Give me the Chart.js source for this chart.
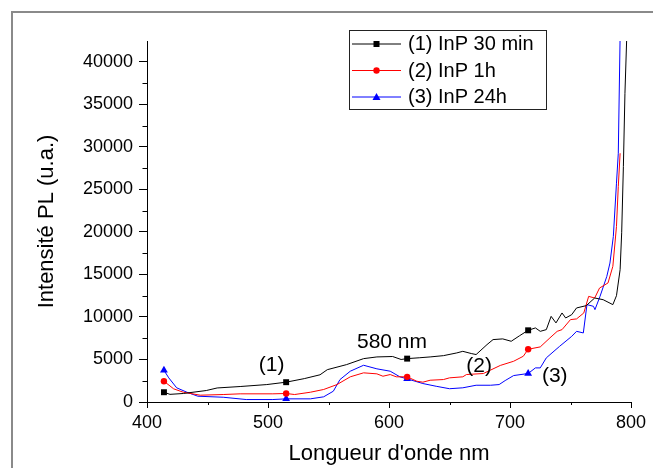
<!DOCTYPE html>
<html><head><meta charset="utf-8">
<script src="https://cdn.jsdelivr.net/npm/chart.js@4/dist/chart.umd.min.js"></script>
<style>
html,body{margin:0;padding:0;background:#fff;overflow:hidden;}
#wrap{position:relative;width:653px;height:468px;overflow:hidden;}
#frame{position:absolute;left:11px;top:11px;width:700px;height:500px;border-top:2px solid #8a8a8a;border-left:2px solid #8a8a8a;pointer-events:none;}
canvas{position:absolute;left:0;top:0;}
</style></head><body>
<div id="wrap"><canvas id="c" width="653" height="468"></canvas><div id="frame"></div></div>
<script>
// ---- data ----
const seriesLabels = ['(1) InP 30 min', '(2) InP 1h', '(3) InP 24h'];
const markerWl = [414, 515, 615, 715];

const wl1 = [414, 419, 430, 449, 458, 477, 499, 515, 530, 543, 549, 565, 579, 590, 603, 610, 615, 625, 634, 645, 656, 661, 668, 672, 681, 686, 694, 701, 708, 715, 721, 725, 730, 734, 738, 743, 746, 751, 755, 763, 770, 777, 785, 788, 791, 792.3, 793.7, 795, 796.5];
const int1 = [1150, 900, 1000, 1350, 1650, 1820, 2050, 2330, 2750, 3200, 3800, 4400, 5100, 5300, 5350, 5000, 5100, 5200, 5300, 5450, 5770, 5960, 5700, 5580, 6750, 7340, 7420, 7140, 7800, 8430, 8710, 8310, 8510, 10070, 9300, 10470, 9880, 10270, 11060, 11330, 12230, 12030, 11450, 12500, 15560, 19900, 27680, 36300, 43000];

const wl2 = [414, 422, 430, 444, 463, 477, 504, 515, 522, 535, 546, 557, 568, 579, 590, 595, 601, 606, 615, 623, 628, 634, 645, 650, 661, 664, 678, 692, 703, 711, 715, 725, 733, 739, 743, 750, 755, 761, 765, 770, 774, 781, 785, 788, 789.5, 791];
const int2 = [2440, 1550, 1150, 800, 880, 960, 960, 1000, 880, 1150, 1470, 2050, 2960, 3430, 3310, 3030, 3230, 2960, 2960, 2440, 2330, 2560, 2640, 2840, 2960, 3230, 3350, 4300, 4790, 5380, 6200, 6480, 7540, 8310, 8510, 9690, 9770, 10470, 12420, 12230, 13400, 14000, 15950, 20640, 25340, 29250];

const wl3 = [414, 418, 424.5, 433, 442, 463, 482, 504, 515, 535, 546, 554, 559.5, 568, 579, 590, 601, 609, 615, 628, 639, 650, 661, 672, 684, 691, 696, 703, 715, 721, 725, 730, 741, 751, 755, 760.6, 763.6, 769, 770.2, 774.4, 780, 782.6, 785.4, 788, 789.5, 791];
const int3 = [3730, 2840, 1670, 1150, 680, 560, 290, 290, 370, 370, 610, 1270, 2640, 3620, 4320, 3900, 3620, 2960, 2720, 2170, 1850, 1560, 1670, 1970, 1970, 2050, 2520, 3110, 3350, 4010, 4010, 5190, 6550, 7720, 8310, 8120, 11450, 11250, 10860, 12420, 14770, 16340, 19470, 25730, 29250, 43000];

const xTickValues = [400, 500, 600, 700, 800];
const yTickValues = [0, 5000, 10000, 15000, 20000, 25000, 30000, 35000, 40000];
const xMinorValues = [450, 550, 650, 750];
const yMinorValues = [2500, 7500, 12500, 17500, 22500, 27500, 32500, 37500];
const xMin = 400, xMax = 800, yMin = 0, yMax = 42450;

const annText = ['(1)', '580 nm', '(2)', '(3)'];
const annWl = [503, 602.5, 674.5, 737];
const annInt = [4300, 7000, 4170, 2990];

// ---- chart ----
const FONT = "'Liberation Sans', Arial, sans-serif";
Chart.defaults.font.family = FONT;
Chart.defaults.color = '#000';

function pts(xs, ys) { return xs.map((x, i) => ({x: x, y: ys[i]})); }
const colors = ['#000000', '#ff0000', '#0000ff'];
const styles = ['rect', 'circle', 'triangle'];
const radii = [4.2, 3.2, 4.5];

const datasets = [[wl1, int1], [wl2, int2], [wl3, int3]].map((d, i) => ({
  label: seriesLabels[i],
  data: pts(d[0], d[1]),
  borderColor: colors[i],
  backgroundColor: colors[i],
  borderWidth: 1,
  pointStyle: styles[i],
  pointRadius: ctx => (ctx.raw && markerWl.includes(ctx.raw.x)) ? radii[i] : 0,
  pointBorderWidth: 0,
  tension: 0
}));

const extras = {
  id: 'extras',
  afterDraw(chart) {
    const ctx = chart.ctx, xs = chart.scales.x, ys = chart.scales.y;
    const area = chart.chartArea;
    ctx.save();
    ctx.strokeStyle = '#000'; ctx.lineWidth = 1;
    // minor ticks
    ctx.beginPath();
    xMinorValues.forEach(v => { const p = Math.round(xs.getPixelForValue(v)) + 0.5; ctx.moveTo(p, area.bottom); ctx.lineTo(p, area.bottom + 3); });
    yMinorValues.forEach(v => { if (v > yMax) return; const p = Math.round(ys.getPixelForValue(v)) + 0.5; ctx.moveTo(area.left, p); ctx.lineTo(area.left - 4.5, p); });
    ctx.stroke();
    // annotations
    ctx.fillStyle = '#000';
    ctx.font = '21px ' + FONT;
    ctx.textAlign = 'center'; ctx.textBaseline = 'middle';
    annText.forEach((t, i) => ctx.fillText(t, xs.getPixelForValue(annWl[i]), ys.getPixelForValue(annInt[i])));
    // legend
    const L = {x: 349.5, y: 30.5, w: 197, h: 79, rows: [43.5, 70, 96.5], x1: 352, x2: 401, tx: 408};
    ctx.strokeStyle = '#222'; ctx.lineWidth = 1;
    ctx.strokeRect(L.x, L.y, L.w, L.h);
    ctx.font = '20px ' + FONT; ctx.textAlign = 'left';
    chart.data.datasets.forEach((ds, i) => {
      const y = L.rows[i];
      ctx.strokeStyle = ds.borderColor; ctx.lineWidth = 1;
      ctx.beginPath(); ctx.moveTo(L.x1, y + 0.5); ctx.lineTo(L.x2, y + 0.5); ctx.stroke();
      const mx = (L.x1 + L.x2) / 2;
      ctx.fillStyle = ds.backgroundColor;
      ctx.beginPath();
      if (ds.pointStyle === 'rect') ctx.rect(mx - 3, y - 2.5, 6, 6);
      else if (ds.pointStyle === 'circle') ctx.arc(mx, y + 0.5, 3.2, 0, Math.PI * 2);
      else { ctx.moveTo(mx, y - 3.5); ctx.lineTo(mx + 4, y + 3.5); ctx.lineTo(mx - 4, y + 3.5); ctx.closePath(); }
      ctx.fill();
      ctx.fillStyle = '#000';
      ctx.fillText(ds.label, L.tx, y + 1);
    });
    ctx.restore();
  }
};

new Chart(document.getElementById('c'), {
  type: 'line',
  data: { datasets: datasets },
  options: {
    responsive: false,
    animation: false,
    devicePixelRatio: 1,
    layout: { padding: { left: 0, right: 22, top: 41, bottom: 0 } },
    plugins: { legend: { display: false }, tooltip: { enabled: false } },
    scales: {
      x: {
        type: 'linear', min: xMin, max: xMax,
        afterBuildTicks: s => { s.ticks = xTickValues.map(v => ({value: v})); },
        afterFit: s => { s.height = 66; },
        ticks: { font: { size: 18 }, padding: 4, color: '#000', maxRotation: 0, callback: v => String(v) },
        grid: { drawOnChartArea: false, tickLength: 6, tickColor: '#000', tickWidth: 1 },
        border: { display: true, color: '#000', width: 1 },
        title: { display: true, text: "Longueur d'onde nm", font: { size: 22 }, padding: { top: 0, bottom: 1 }, color: '#000' }
      },
      y: {
        type: 'linear', min: yMin, max: yMax,
        afterBuildTicks: s => { s.ticks = yTickValues.map(v => ({value: v})); },
        afterFit: s => { s.width = 147; },
        ticks: { font: { size: 18 }, padding: 6, color: '#000', callback: v => String(v) },
        grid: { drawOnChartArea: false, tickLength: 8, tickColor: '#000', tickWidth: 1 },
        border: { display: true, color: '#000', width: 1 },
        title: { display: true, text: 'Intensité PL (u.a.)', font: { size: 22 }, padding: { top: 34, bottom: 0 }, color: '#000' }
      }
    }
  },
  plugins: [extras]
});
</script>
</body></html>
